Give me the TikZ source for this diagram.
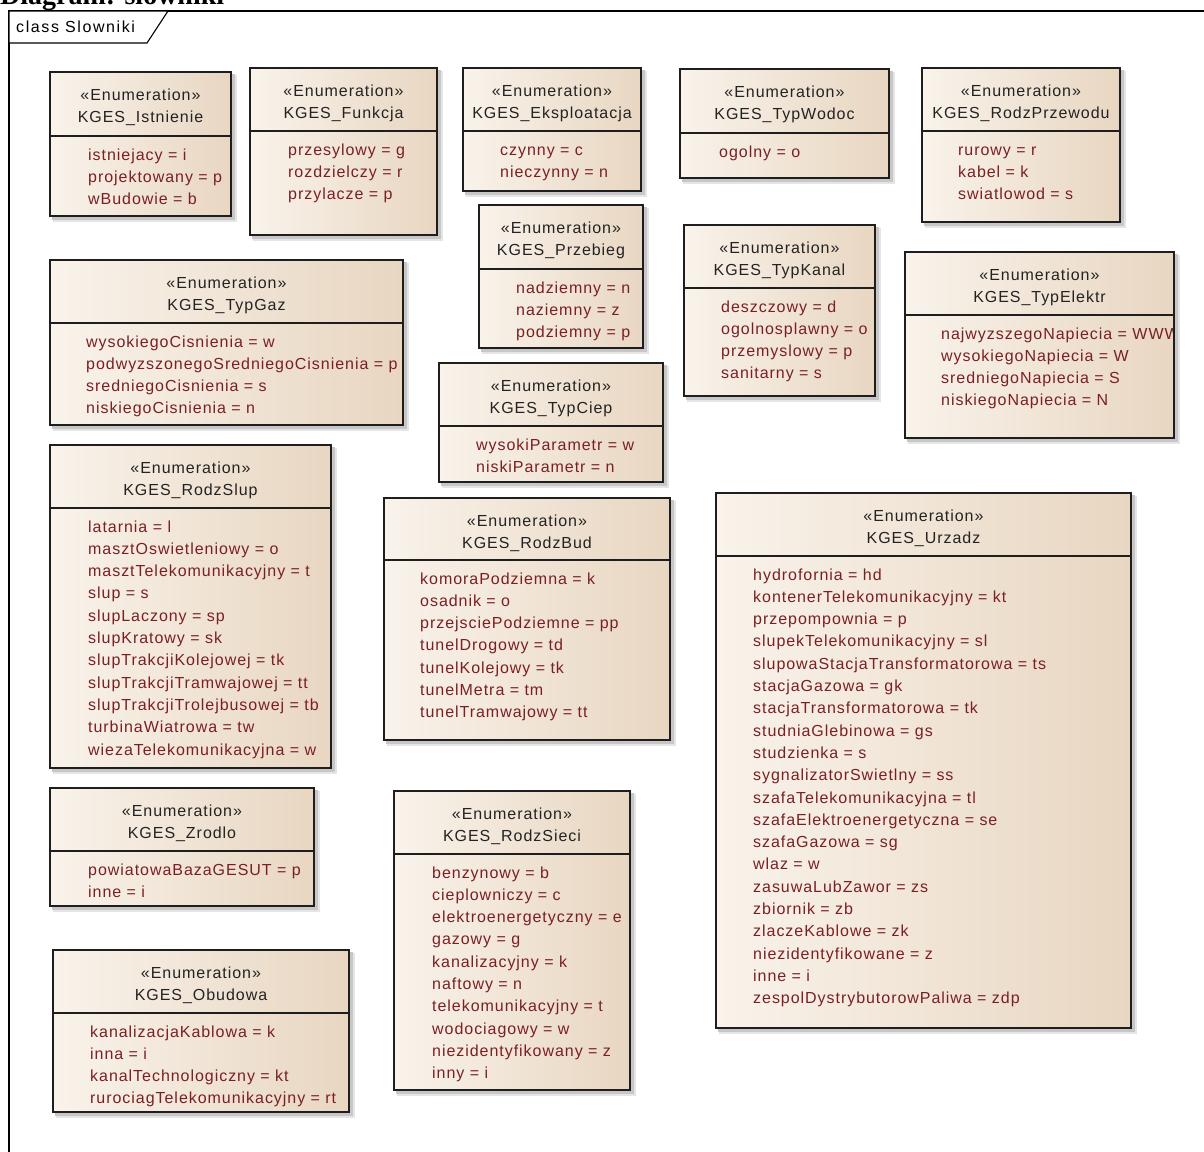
\documentclass[tikz,border=0pt]{standalone}
\usepackage{fontspec}
\setmainfont{Liberation Sans}
\newfontfamily\umlfont[LetterSpace=6]{Liberation Sans}
\newfontfamily\tabfont[LetterSpace=10]{Liberation Sans}
\newfontfamily\ttlfont{Liberation Serif}
\definecolor{boxL}{RGB}{249,243,235}
\definecolor{boxR}{RGB}{232,214,193}
\definecolor{itemcol}{RGB}{122,32,36}
\definecolor{headcol}{RGB}{35,35,35}
\definecolor{bordcol}{RGB}{30,30,30}
\tikzset{
  boxframe/.style={draw=bordcol, line width=1.4pt},
  shadowA/.style={fill=black!22},
  shadowB/.style={fill=black!10},
  stereo/.style={anchor=base, inner sep=0pt, text=headcol, font=\umlfont\fontsize{16}{18}\selectfont},
  itemtxt/.style={anchor=base west, inner sep=0pt, text=itemcol, font=\umlfont\fontsize{16}{18}\selectfont},
  frameline/.style={draw=black, line width=1.1pt},
}
\newcommand\enumbox[9]{%
  \fill[shadowB] ({#2+3},{#3+3}) rectangle ({#4+6},{#6+6});
  \fill[shadowA] ({#2+2},{#3+2}) rectangle ({#4+4},{#6+4});
  \shade[left color=boxL, right color=boxR] (#2,#3) rectangle (#4,#6);
  \node[stereo] (#1-st) at ({(#2+#4)/2},{#3+28.5}) {«Enumeration»};
  \node[stereo] (#1) at ({(#2+#4)/2},{#3+50.5}) {#7};
  \begin{scope}
    \clip (#2,#3) rectangle (#4,#6);
    \foreach \t [count=\i from 0] in {#9} {
      \node[itemtxt] (#1-\i) at (#8,{#5+24+\i*22.3}) {\t};
    }
  \end{scope}
  \draw[boxframe] (#2,#3) rectangle (#4,#6);
  \draw[boxframe] (#2,#5) -- (#4,#5);
}
\begin{document}
\begin{tikzpicture}[x=1pt,y=-1pt]
\useasboundingbox (0,0) rectangle (1204,1151);
\fill[white] (0,0) rectangle (1204,1151);
% title (cut off at the top, as in the reference)
\node[anchor=base west, inner sep=0pt, font=\ttlfont\bfseries\fontsize{28}{28}\selectfont] (title) at (0,5) {Diagram: slowniki};
% frame
\draw[frameline] (9,1170) -- (9,11) -- (1220,11);
\draw[frameline, fill=white] (9,11) -- (168,11) -- (147,43) -- (9,43) -- cycle;
\node[anchor=base west, inner sep=0pt, font=\tabfont\fontsize{16}{16}\selectfont] (frametitle) at (16,32) {class Slowniki};

\enumbox{istn}{50}{72}{231}{136}{216}{KGES\_Istnienie}{88}{istniejacy = i, projektowany = p, wBudowie = b}
\enumbox{funk}{250}{68}{437}{131}{235}{KGES\_Funkcja}{288}{przesylowy = g, rozdzielczy = r, przylacze = p}
\enumbox{eksp}{463}{68}{641}{131}{191}{KGES\_Eksploatacja}{500}{czynny = c, nieczynny = n}
\enumbox{wod}{680}{69}{889}{133}{178}{KGES\_TypWodoc}{719}{ogolny = o}
\enumbox{przew}{922}{68}{1120}{131}{222}{KGES\_RodzPrzewodu}{958}{rurowy = r, kabel = k, swiatlowod = s}
\enumbox{przeb}{479}{205}{643}{269}{348}{KGES\_Przebieg}{516}{nadziemny = n, naziemny = z, podziemny = p}
\enumbox{kanal}{684}{225}{875}{288}{396}{KGES\_TypKanal}{721}{deszczowy = d, ogolnosplawny = o, przemyslowy = p, sanitarny = s}
\enumbox{elektr}{905}{252}{1174}{315}{438}{KGES\_TypElektr}{941}{najwyzszegoNapiecia = WWW, wysokiegoNapiecia = W, sredniegoNapiecia = S, niskiegoNapiecia = N}
\enumbox{gaz}{50}{260}{403}{323}{425}{KGES\_TypGaz}{86}{wysokiegoCisnienia = w, podwyzszonegoSredniegoCisnienia = p, sredniegoCisnienia = s, niskiegoCisnienia = n}
\enumbox{ciep}{439}{363}{663}{426}{482}{KGES\_TypCiep}{476}{wysokiParametr = w, niskiParametr = n}
\enumbox{slup}{50}{445}{331}{508}{768}{KGES\_RodzSlup}{88}{latarnia = l, masztOswietleniowy = o, masztTelekomunikacyjny = t, slup = s, slupLaczony = sp, slupKratowy = sk, slupTrakcjiKolejowej = tk, slupTrakcjiTramwajowej = tt, slupTrakcjiTrolejbusowej = tb, turbinaWiatrowa = tw, wiezaTelekomunikacyjna = w}
\enumbox{bud}{384}{498}{670}{560}{740}{KGES\_RodzBud}{420}{komoraPodziemna = k, osadnik = o, przejsciePodziemne = pp, tunelDrogowy = td, tunelKolejowy = tk, tunelMetra = tm, tunelTramwajowy = tt}
\enumbox{urz}{716}{493}{1131}{556}{1028}{KGES\_Urzadz}{753}{hydrofornia = hd, kontenerTelekomunikacyjny = kt, przepompownia = p, slupekTelekomunikacyjny = sl, slupowaStacjaTransformatorowa = ts, stacjaGazowa = gk, stacjaTransformatorowa = tk, studniaGlebinowa = gs, studzienka = s, sygnalizatorSwietlny = ss, szafaTelekomunikacyjna = tl, szafaElektroenergetyczna = se, szafaGazowa = sg, wlaz = w, zasuwaLubZawor = zs, zbiornik = zb, zlaczeKablowe = zk, niezidentyfikowane = z, inne = i, zespolDystrybutorowPaliwa = zdp}
\enumbox{zrod}{50}{788}{314}{851}{906}{KGES\_Zrodlo}{88}{powiatowaBazaGESUT = p, inne = i}
\enumbox{sieci}{394}{791}{630}{854}{1090}{KGES\_RodzSieci}{432}{benzynowy = b, cieplowniczy = c, elektroenergetyczny = e, gazowy = g, kanalizacyjny = k, naftowy = n, telekomunikacyjny = t, wodociagowy = w, niezidentyfikowany = z, inny = i}
\enumbox{obud}{53}{950}{349}{1013}{1112}{KGES\_Obudowa}{90}{kanalizacjaKablowa = k, inna = i, kanalTechnologiczny = kt, rurociagTelekomunikacyjny = rt}
\end{tikzpicture}
\end{document}
